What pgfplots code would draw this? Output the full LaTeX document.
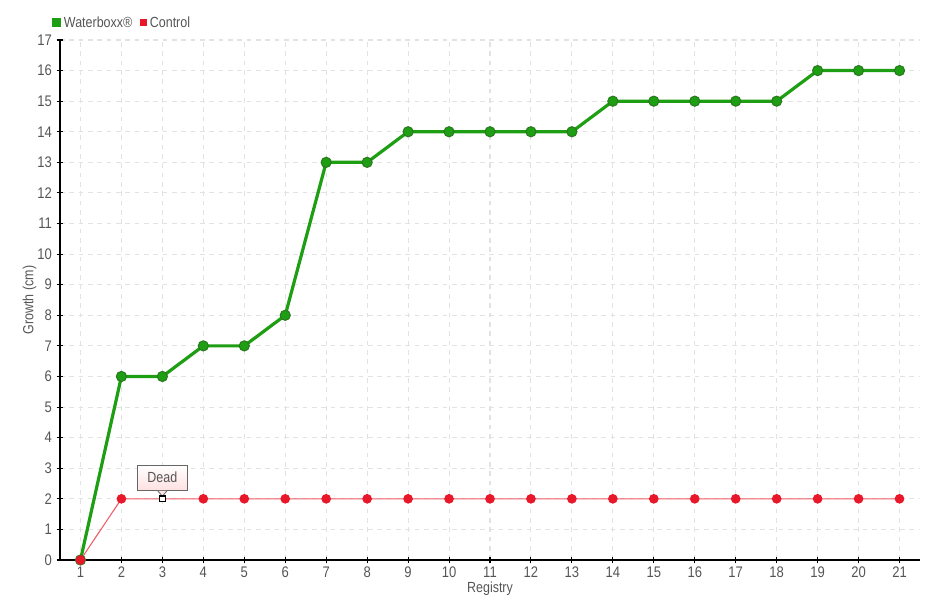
\documentclass[border=0pt]{standalone}
\usepackage{pgfplots}
\pgfplotsset{compat=1.18}
\usepackage{fontspec}
\setmainfont{Liberation Sans}[FakeStretch=0.85]
\definecolor{wgreen}{HTML}{1E9E12}
\definecolor{wgreendk}{HTML}{2A7A20}
\definecolor{cred}{HTML}{E8172A}
\definecolor{credln}{HTML}{F05A66}
\definecolor{txt}{HTML}{555555}
\definecolor{gridc}{HTML}{E2E2E2}
\begin{document}
\begin{tikzpicture}
\begin{axis}[
  name=main,
  scale only axis,
  width=645pt, height=390pt,
  xmin=0.5, xmax=21.5,
  ymin=0, ymax=17,
  xtick={1,...,21},
  ytick={0,...,17},
  axis lines*=left,
  axis line style={black, line width=0.9pt},
  tick style={black, line width=0.8pt},
  major tick length=5pt,
  tick align=center,
  grid=major,
  major grid style={gridc, line width=0.8pt, dash pattern=on 3.5pt off 3.5pt},
  ticklabel style={font=\fontsize{11.5}{12}\selectfont, text=txt},
  xticklabel style={yshift=1pt},
  /pgf/number format/assume math mode=true,
  xlabel={Registry},
  ylabel={Growth (cm)},
  label style={font=\fontsize{11}{12}\selectfont, text=txt},
  xlabel style={yshift=4pt},
  ylabel style={yshift=-6pt},
  clip=false,
  legend columns=2,
  legend style={
    at={(-9pt,394pt)}, anchor=south west, draw=none, fill=none,
    font=\fontsize{11}{12}\selectfont, text=txt,
    /tikz/every even column/.append style={column sep=4pt}
  },
]
\addplot[wgreen, line width=2.4pt, mark=*, mark size=3.8pt,
  mark options={fill=wgreen, draw=wgreendk, line width=0.8pt},
  legend image code/.code={\fill[wgreen] (0pt,-2.2pt) rectangle (4.4pt,2.2pt);}]
  coordinates {
    (1,0) (2,6) (3,6) (4,7) (5,7) (6,8) (7,13) (8,13) (9,14) (10,14)
    (11,14) (12,14) (13,14) (14,15) (15,15) (16,15) (17,15) (18,15)
    (19,16) (20,16) (21,16)
  };
\addlegendentry{Waterboxx®}
\addplot[credln, line width=0.8pt, mark=*, mark size=3.2pt,
  mark options={fill=cred, draw=cred},
  mark indices={1,2,4,5,6,7,8,9,10,11,12,13,14,15,16,17,18,19,20,21},
  legend image code/.code={\fill[cred] (0pt,-2.2pt) rectangle (4.4pt,2.2pt);}]
  coordinates {
    (1,0) (2,2) (3,2) (4,2) (5,2) (6,2) (7,2) (8,2) (9,2) (10,2)
    (11,2) (12,2) (13,2) (14,2) (15,2) (16,2) (17,2) (18,2) (19,2)
    (20,2) (21,2)
  };
\addlegendentry{Control}
\addplot[only marks, mark=square*, mark size=2.2pt,
  mark options={fill=white, draw=black, line width=1pt}, forget plot]
  coordinates {(3,2)};
\node[draw=gray!80!black, line width=0.6pt, top color=white, bottom color=red!12,
  minimum width=37pt, minimum height=19pt, inner sep=2pt,
  font=\fontsize{11}{12}\selectfont, text=txt, anchor=south]
  (tip) at ([yshift=6pt]axis cs:3,2) {Dead};
\fill[red!10] ([xshift=-3.5pt]tip.south) -- ([yshift=-4pt]tip.south) -- ([xshift=3.5pt]tip.south) -- cycle;
\draw[gray!80!black, line width=0.6pt] ([xshift=-3.5pt]tip.south) -- ([yshift=-4pt]tip.south) -- ([xshift=3.5pt]tip.south);
\end{axis}
\path[use as bounding box] ([shift={(-45pt,-30pt)}]main.south west) rectangle ([shift={(15pt,30pt)}]main.north east);
\end{tikzpicture}
\end{document}
